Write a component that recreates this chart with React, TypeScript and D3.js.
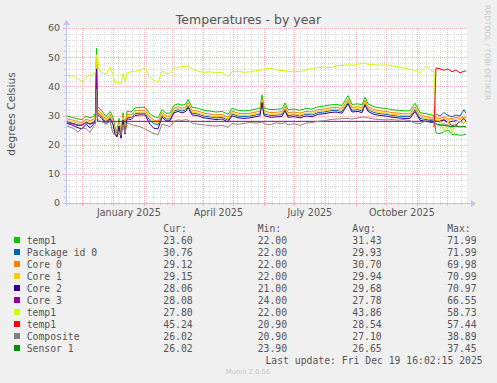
import React from "react";
import * as d3 from "d3";

// day offsets from the start of the graph (Nov 14 2024 16:02:15)
const dayOffsets = [
  0, 4, 8, 12, 16, 20, 24, 28, 29.5, 30.5,
  31.5, 33, 36, 40, 44, 47, 49, 51, 53, 55,
  57, 59, 61, 65, 69, 74, 79, 84, 88, 92,
  96, 100, 104, 108, 112, 116, 120, 122, 126, 132,
  138, 144, 150, 156, 162, 166, 172, 178, 184, 190,
  194, 196, 198, 204, 210, 216, 219, 222, 228, 234,
  240, 246, 252, 258, 264, 270, 276, 282, 286, 292,
  296, 299, 302, 308, 314, 320, 326, 332, 338, 344,
  349, 354, 360, 366, 368, 370, 374, 378, 382, 386,
  390, 394, 398, 400,
];

const temp1A = [
  30.0, 29.5, 29.2, 28.8, 28.6, 29.8, 29.2, 29.8, 31, 53,
  33, 32.6, 31.5, 29.6, 31.4, 29.5, 26, 24.5, 29, 23.5,
  31, 26, 31.5, 31.2, 32.6, 32.8, 32.8, 30.5, 29.6, 29.2,
  32, 30.8, 30.8, 33.5, 34, 33.5, 34, 35.5, 32.8, 32.5,
  31.8, 31.5, 31.2, 31.4, 30.4, 32.5, 31.8, 31.6, 31.8, 32.2,
  32.5, 37.1, 32.6, 32, 32.1, 32.3, 34.3, 32, 32.2, 31.8,
  32.4, 32.2, 33, 33.2, 33.6, 33.8, 33.4, 36.8, 33.8, 34,
  33.6, 36.3, 34, 33, 32.6, 32.4, 32, 31.8, 31.6, 31.6,
  34.2, 31, 30.6, 30.2, 30, 24, 23.8, 24.5, 25, 23.5,
  23.6, 23.2, 23.4, 23.6,
];

const packageId0 = [
  28, 27.6, 27.2, 26.8, 26.6, 27.8, 27.2, 27.8, 29, 48.5,
  31, 30.6, 29.5, 27.6, 29.4, 27.5, 24.2, 23, 27, 22.5,
  29, 24.2, 29.5, 29.2, 30.6, 30.8, 30.8, 28.2, 27.2, 26.8,
  30, 28.8, 28.8, 31.5, 32, 31.5, 32, 33.4, 30.8, 30.5,
  29.8, 29.5, 29.2, 29.4, 28.4, 30.5, 29.8, 29.6, 29.8, 30.2,
  30.5, 35, 30.6, 30, 30.1, 30.3, 32.2, 30, 30.2, 29.8,
  30.4, 30.2, 31, 31.2, 31.6, 31.8, 31.4, 34.6, 31.8, 32,
  31.6, 34.2, 32, 31, 30.6, 30.4, 30, 29.8, 29.6, 29.6,
  32, 29, 28.6, 28.2, 28.4, 30.5, 29.8, 31, 30, 29.6,
  30.2, 29.8, 32, 30.76,
];

const core0 = [
  29.0, 28.6, 28.3, 27.8, 27.6, 28.8, 28.2, 28.8, 30, 51,
  32, 31.6, 30.5, 28.6, 30.4, 28.5, 25, 23.8, 28, 23,
  30, 25.2, 30.5, 30.2, 31.6, 31.8, 31.8, 29.4, 28.4, 28,
  31, 29.8, 29.8, 32.5, 33, 32.5, 33, 34.4, 31.8, 31.5,
  30.8, 30.5, 30.2, 30.4, 29.4, 31.5, 30.8, 30.6, 30.8, 31.2,
  31.5, 35.8, 31.6, 31, 31.1, 31.3, 33.2, 31, 31.2, 30.8,
  31.4, 31.2, 32, 32.2, 32.6, 32.8, 32.4, 35.6, 32.8, 33,
  32.6, 35.2, 33, 32, 31.6, 31.4, 31, 30.8, 30.6, 30.6,
  33, 30, 29.6, 29.2, 29, 29.2, 29, 29.6, 28.8, 29,
  29.4, 29, 29.6, 29.12,
];

const core1 = [
  28.4, 28, 27.6, 27.2, 27, 28.2, 27.6, 28.2, 29.4, 50,
  31.4, 31, 29.9, 28, 29.8, 27.9, 24.5, 23.4, 27.4, 22.8,
  29.4, 24.6, 29.9, 29.6, 31, 31.2, 31.2, 28.8, 27.8, 27.4,
  30.4, 29.2, 29.2, 31.9, 32.4, 31.9, 32.4, 33.8, 31.2, 30.9,
  30.2, 29.9, 29.6, 29.8, 28.8, 30.9, 30.2, 30, 30.2, 30.6,
  30.9, 35.2, 31, 30.4, 30.5, 30.7, 32.6, 30.4, 30.6, 30.2,
  30.8, 30.6, 31.4, 31.6, 32, 32.2, 31.8, 35, 32.2, 32.4,
  32, 34.6, 32.4, 31.4, 31, 30.8, 30.4, 30.2, 30, 30,
  32.4, 29.4, 29, 28.6, 28.4, 28.8, 28.4, 29, 28.4, 28.6,
  28.8, 28.6, 29.2, 29.15,
];

const core2 = [
  27.4, 27, 26.4, 25.8, 25.4, 27, 25.8, 27.2, 28.4, 46,
  30.4, 30, 28.9, 27, 28.8, 26.9, 23.6, 22.6, 26.4, 22.2,
  28.4, 23.6, 28.9, 28.6, 30, 30.2, 30.2, 27, 25.6, 25.4,
  29.4, 28.2, 28.2, 30.9, 31.4, 30.9, 31.4, 32.8, 30.2, 29.9,
  29.2, 28.9, 28.6, 28.8, 27.8, 29.9, 29.2, 29, 29.2, 29.6,
  29.9, 34.4, 30, 29.4, 29.5, 29.7, 31.6, 29.4, 29.6, 29.2,
  29.8, 29.6, 30.4, 30.6, 31, 31.2, 30.8, 34, 31.2, 31.4,
  31, 33.6, 31.4, 30.4, 30, 29.8, 29.4, 29.2, 29, 29,
  31.4, 28.4, 28, 27.6, 27.8, 28.2, 27.8, 28.6, 27.6, 28,
  28.2, 27.8, 29, 28.06,
];

const core3 = [
  27.5, 27.4, 27, 26.5, 26.8, 27.5, 27, 27.5, 28, 45,
  28, 28, 28, 28, 28, 28, 28, 28, 28, 28,
  28, 28, 28, 28, 28, 28, 28, 28, 28, 28,
  28, 28, 28, 28, 28, 28, 28, 28, 28, 28,
  28, 28, 28, 28, 28, 28, 28, 28, 28, 28,
  28, 28, 28, 28, 28, 28, 28, 28, 28, 28,
  28, 28, 28, 28, 28, 28, 28, 28, 28, 28,
  28, 28, 28, 28, 28, 28, 28, 28, 28, 28,
  28, 28, 28, 28, 28, 28, 28.2, 28.4, 27.4, 26.6,
  26.8, 28, 27.4, 28.08,
];

const temp1B = [
  44, 43.5, 43.6, 42.5, 41.5, 43, 43.8, 44.2, 45, 50.8,
  50, 46, 44.5, 44.2, 46.5, 44, 41, 41.6, 41.2, 40.8,
  44.5, 41.5, 44.6, 45, 45.2, 45.5, 46.3, 43, 42, 41.5,
  45.2, 44.3, 44.5, 46.3, 46.4, 46.8, 46.8, 47, 46, 45.2,
  44.8, 45, 44.6, 44.8, 43.4, 45, 45.2, 44.8, 45, 45.4,
  45.5, 45.6, 46, 46.2, 45.6, 45.4, 45.5, 45, 45.2, 45,
  45.6, 46.2, 46.4, 46.6, 46.4, 47, 47.2, 47.4, 47.2, 47.6,
  47.8, 48, 47.5, 47.4, 47.2, 47.4, 47, 46.8, 46.2, 45.8,
  45.5, 44.6, 47, 45.3, 45, 28.5, 28.2, 24.5, 28, 24,
  28, 27.8, 27.6, 27.8,
];

const N0 = null;
const temp1C = [
  N0, N0, N0, N0, N0, N0, N0, N0, N0, N0,
  N0, N0, N0, N0, N0, N0, N0, N0, N0, N0,
  N0, N0, N0, N0, N0, N0, N0, N0, N0, N0,
  N0, N0, N0, N0, N0, N0, N0, N0, N0, N0,
  N0, N0, N0, N0, N0, N0, N0, N0, N0, N0,
  N0, N0, N0, N0, N0, N0, N0, N0, N0, N0,
  N0, N0, N0, N0, N0, N0, N0, N0, N0, N0,
  N0, N0, N0, N0, N0, N0, N0, N0, N0, N0,
  N0, N0, N0, N0, 26, 46.3, 46, 45.5, 46, 45,
  45.6, 44.6, 45.2, 45.24,
];

const composite = [
  26.5, 26, 25.5, 24.3, 25.8, 25.5, 24.2, 26.5, 27, 38.9,
  29, 28.2, 27.8, 27.2, 27.8, 24, 23.5, 25, 23.5, 23.3,
  27, 24, 27.5, 27, 26.5, 26.2, 25.4, 24.5, 23.8, 23.4,
  27, 26.6, 26.2, 28, 28.5, 28.3, 28.6, 28.4, 27.4, 27,
  26.8, 26.5, 26.4, 26.6, 26, 27.2, 27, 27.3, 27.6, 27.4,
  27.6, 27.8, 27.2, 26.8, 27.5, 27.2, 27.6, 26.8, 27.2, 26.6,
  27.4, 27.6, 28, 28.2, 28.6, 28.8, 28.9, 29, 28.8, 29.2,
  29.4, 29.5, 29.2, 28.8, 28.6, 28.5, 28.6, 28.4, 28.6, 28.2,
  27.4, 27.2, 28.2, 28.8, 28, 27, 26.4, 27.2, 26.5, 26,
  26.6, 26.2, 26.4, 26.02,
];

const sensor1 = [
  N0, N0, N0, N0, N0, N0, N0, N0, N0, N0,
  N0, N0, N0, N0, N0, N0, N0, N0, N0, N0,
  N0, N0, N0, N0, N0, N0, N0, N0, N0, N0,
  N0, N0, N0, N0, N0, N0, N0, N0, N0, N0,
  N0, N0, N0, N0, N0, N0, N0, N0, N0, N0,
  N0, N0, N0, N0, N0, N0, N0, N0, N0, N0,
  N0, N0, N0, N0, N0, N0, N0, N0, N0, N0,
  N0, N0, N0, N0, N0, N0, N0, N0, N0, N0,
  N0, N0, N0, N0, N0, 27.2, 26.8, 26.6, 26.4, 26.2,
  26.3, 26.1, 26.2, 26.02,
];

const seriesNames = ["temp1", "Package id 0", "Core 0", "Core 1", "Core 2", "Core 3", "temp1", "temp1", "Composite", "Sensor 1"];
const seriesColors = ["#00cc00", "#0066b3", "#ff8000", "#ffcc00", "#330099", "#990099", "#ccff00", "#ff0000", "#808080", "#008f00"];
const lineColors = ["#00cc00", "#0066b3", "#ff8000", "#ffcc00", "#330099", "#990099", "#ccff00", "#ff0000", "#9a8080", "#008f00"];
const seriesValues = [temp1A, packageId0, core0, core1, core2, core3, temp1B, temp1C, composite, sensor1];
const curVals = ["23.60", "30.76", "29.12", "29.15", "28.06", "28.08", "27.80", "45.24", "26.02", "26.02"];
const minVals = ["22.00", "22.00", "22.00", "22.00", "21.00", "24.00", "22.00", "20.90", "20.90", "23.90"];
const avgVals = ["31.43", "29.93", "30.70", "29.94", "29.68", "27.78", "43.86", "28.54", "27.10", "26.65"];
const maxVals = ["71.99", "71.99", "69.98", "70.99", "70.97", "66.55", "58.73", "57.44", "38.89", "37.45"];

const yTicks = [0, 10, 20, 30, 40, 50, 60];
const xLabels = ["January 2025", "April 2025", "July 2025", "October 2025"];
const xLabelMonths = [0, 3, 6, 9];

export default function App() {
  const W = 497, H = 383;
  const L = 66, R = 467, T = 28, B = 203;
  const start = new Date(2024, 10, 14, 16, 2, 15);
  const end = new Date(2025, 11, 19, 16, 2, 15);
  const x = d3.scaleTime().domain([start, end]).range([66, 466]);
  const y = d3.scaleLinear().domain([0, 60]).range([B, T]);
  const dates = dayOffsets.map((d) => new Date(start.getTime() + d * 864e5));
  const line = d3
    .line<number | null>()
    .defined((v) => v != null)
    .x((_, i) => x(dates[i]))
    .y((v) => y(v as number));

  const months = d3.timeMonth.range(start, end);
  const weeks = d3.timeMonday.range(start, end);
  const minorY = d3.range(0, 61, 2).filter((v) => v % 10 !== 0);

  const sans = "'DejaVu Sans', sans-serif";
  const mono = "'DejaVu Sans Mono', monospace";
  const txt = "#555555";
  const axisCol = "#bcc4f4";
  const minorCol = "#dcdcdc";
  const majorCol = "#f2b4b4";

  const legendY0 = 240;
  const rowH = 12;
  const colX = [163.3, 257.7, 352.3, 447.2];

  return (
    <div style={{ position: "fixed", left: 0, top: 0 }}>
      <svg width={W} height={H} style={{ display: "block" }}>
        <rect x={0} y={0} width={W} height={H} fill="#f0f0f0" />
        <rect x={L} y={T} width={R - L} height={B - T} fill="#ffffff" />

        <text x={248.5} y={24} textAnchor="middle" fontFamily={sans} fontSize={12.5} fill={txt}>
          Temperatures - by year
        </text>

        {/* minor grid */}
        <g stroke={minorCol} strokeWidth={1} strokeDasharray="1,1" shapeRendering="crispEdges">
          {minorY.map((v) => (
            <line key={"my" + v} x1={L} x2={R} y1={Math.round(y(v)) + 0.5} y2={Math.round(y(v)) + 0.5} />
          ))}
          {weeks.map((d, i) => (
            <line key={"mx" + i} x1={Math.round(x(d)) + 0.5} x2={Math.round(x(d)) + 0.5} y1={T} y2={B} />
          ))}
        </g>
        {/* major grid */}
        <g stroke={majorCol} strokeWidth={1} strokeDasharray="1,1" shapeRendering="crispEdges">
          {yTicks.slice(1).map((v) => (
            <line key={"My" + v} x1={L} x2={R} y1={Math.round(y(v)) + 0.5} y2={Math.round(y(v)) + 0.5} />
          ))}
          {months.map((d, i) => (
            <line key={"Mx" + i} x1={Math.round(x(d)) + 0.5} x2={Math.round(x(d)) + 0.5} y1={T} y2={B} />
          ))}
        </g>

        {/* axis ticks */}
        <g shapeRendering="crispEdges">
          {weeks.map((d, i) => (
            <line key={"tw" + i} x1={Math.round(x(d)) + 0.5} x2={Math.round(x(d)) + 0.5} y1={B} y2={B + 2} stroke="#cccccc" />
          ))}
          {months.map((d, i) => (
            <line key={"tm" + i} x1={Math.round(x(d)) + 0.5} x2={Math.round(x(d)) + 0.5} y1={B} y2={B + 3} stroke={majorCol} />
          ))}
          {minorY.map((v) => (
            <line key={"ty" + v} x1={L - 2} x2={L} y1={Math.round(y(v)) + 0.5} y2={Math.round(y(v)) + 0.5} stroke="#cccccc" />
          ))}
          {yTicks.map((v) => (
            <line key={"tY" + v} x1={L - 3} x2={L} y1={Math.round(y(v)) + 0.5} y2={Math.round(y(v)) + 0.5} stroke={majorCol} />
          ))}
        </g>

        {/* series */}
        <g fill="none" strokeWidth={1} strokeLinejoin="round">
          {seriesValues.map((vals, i) => (
            <path key={"s" + i} d={line(vals) || ""} stroke={lineColors[i]} />
          ))}
        </g>

        {/* axes */}
        <g stroke={axisCol} strokeWidth={1} shapeRendering="crispEdges">
          <line x1={L - 3} x2={471} y1={B + 0.5} y2={B + 0.5} />
          <line x1={L + 0.5} x2={L + 0.5} y1={B + 3} y2={24} />
        </g>
        <path d={`M${471},${B - 3} L${476},${B + 0.5} L${471},${B + 4} Z`} fill={axisCol} />
        <path d={`M${L - 3},${25} L${L + 0.5},${20} L${L + 4},${25} Z`} fill={axisCol} />

        {/* y tick labels */}
        {yTicks.map((v) => (
          <text key={"yl" + v} x={60} y={y(v) + 3.4} textAnchor="end" fontFamily={sans} fontSize={9.5} fill={txt}>
            {v}
          </text>
        ))}
        <text
          transform={`translate(15,114) rotate(-90)`}
          textAnchor="middle"
          fontFamily={sans}
          fontSize={10.6}
          fill={txt}
        >
          degrees Celsius
        </text>

        {/* x labels */}
        {xLabels.map((lab, i) => {
          const m0 = new Date(2025, xLabelMonths[i], 1);
          const m1 = new Date(2025, xLabelMonths[i] + 1, 1);
          const cx = (x(m0) + x(m1)) / 2;
          return (
            <text key={lab} x={cx} y={215.5} textAnchor="middle" fontFamily={sans} fontSize={9.6} fill={txt}>
              {lab}
            </text>
          );
        })}

        {/* watermark */}
        <text
          transform={`translate(484.5,5) rotate(90)`}
          fontFamily={sans}
          fontSize={7.4}
          fill="#c8c8c8"
        >
          RRDTOOL / TOBI OETIKER
        </text>

        {/* legend */}
        <g fontFamily={mono} fontSize={9.75} fill={txt}>
          {["Cur:", "Min:", "Avg:", "Max:"].map((h, j) => (
            <text key={h} x={colX[j]} y={legendY0 - rowH + 3.5}>
              {h}
            </text>
          ))}
          {seriesNames.map((name, i) => {
            const cy = legendY0 + i * rowH;
            return (
              <g key={"lg" + i}>
                <rect x={14} y={cy - 3} width={6} height={6} fill={seriesColors[i]} />
                <text x={26.7} y={cy + 3.5}>{name}</text>
                <text x={colX[0]} y={cy + 3.5}>{curVals[i]}</text>
                <text x={colX[1]} y={cy + 3.5}>{minVals[i]}</text>
                <text x={colX[2]} y={cy + 3.5}>{avgVals[i]}</text>
                <text x={colX[3]} y={cy + 3.5}>{maxVals[i]}</text>
              </g>
            );
          })}
          <text x={482.7} y={legendY0 + 10 * rowH + 3.5} textAnchor="end">
            Last update: Fri Dec 19 16:02:15 2025
          </text>
        </g>
        <text x={248} y={374} textAnchor="middle" fontFamily={sans} fontSize={6.8} fill="#c4c4c4">
          Munin 2.0.56
        </text>
      </svg>
    </div>
  );
}
